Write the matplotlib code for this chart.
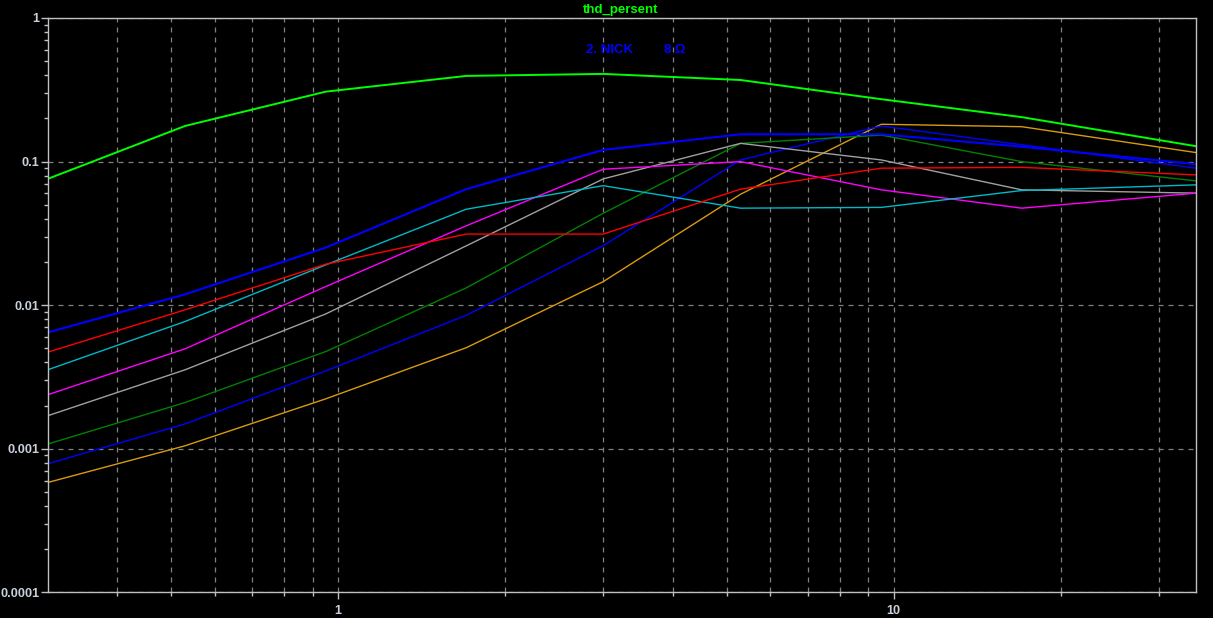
import matplotlib
matplotlib.use("Agg")
import matplotlib.pyplot as plt
from matplotlib.ticker import FixedLocator, NullFormatter, FixedFormatter

# Data (x = level, y = thd percent)
x_vals = [0.3, 0.53, 0.95, 1.7, 3.0, 5.3, 9.5, 17, 35]

s_bright_green = [0.0758, 0.177, 0.307, 0.395, 0.408, 0.37, 0.272, 0.204, 0.128]
s_blue_top     = [0.00646, 0.0119, 0.0252, 0.0643, 0.1206, 0.155, 0.155, 0.127, 0.096]
s_red          = [0.00471, 0.00929, 0.0193, 0.0313, 0.0313, 0.0643, 0.09, 0.0912, 0.0808]
s_cyan         = [0.00355, 0.0077, 0.0191, 0.0466, 0.068, 0.0474, 0.048, 0.0629, 0.0689]
s_magenta      = [0.00238, 0.00497, 0.0135, 0.0357, 0.0885, 0.1, 0.0636, 0.0474, 0.0603]
s_gray         = [0.0017, 0.00355, 0.0087, 0.0259, 0.0758, 0.134, 0.1027, 0.0636, 0.0603]
s_dark_green   = [0.00108, 0.0021, 0.00476, 0.0132, 0.0437, 0.134, 0.153, 0.1, 0.0734]
s_blue_low     = [0.000787, 0.00149, 0.00349, 0.0085, 0.026, 0.1027, 0.177, 0.131, 0.09]
s_orange       = [0.000583, 0.00105, 0.00223, 0.00506, 0.0146, 0.0593, 0.182, 0.175, 0.1156]

series = [
    (s_orange, "#d89a10", 1.0),
    (s_blue_low, "#0000ff", 1.0),
    (s_dark_green, "#008000", 1.0),
    (s_gray, "#a0a0a0", 1.0),
    (s_magenta, "#ff00ff", 1.0),
    (s_cyan, "#00b8c8", 1.0),
    (s_red, "#ff0000", 1.0),
    (s_blue_top, "#0000ff", 1.5),
    (s_bright_green, "#00ff00", 1.4),
]

y_major = [0.0001, 0.001, 0.01, 0.1, 1]
y_labels = ["0.0001", "0.001", "0.01", "0.1", "1"]
x_major = [1, 10]
x_labels = ["1", "10"]
x_minor = [0.4, 0.5, 0.6, 0.7, 0.8, 0.9, 2, 3, 4, 5, 6, 7, 8, 9, 20, 30]

fig = plt.figure(figsize=(12.13, 6.18), dpi=100, facecolor="black")
ax = fig.add_axes([0.0393, 0.0413, 0.9467, 0.9296], facecolor="black")

for ys, col, lw in series:
    ax.plot(x_vals, ys, color=col, lw=lw)

ax.set_xscale("log")
ax.set_yscale("log")
ax.set_xlim(0.3, 35)
ax.set_ylim(0.0001, 1)

txtcol = "#c8d0dc"
ax.yaxis.set_major_locator(FixedLocator(y_major))
ax.yaxis.set_major_formatter(FixedFormatter(y_labels))
ax.yaxis.set_minor_formatter(NullFormatter())
ax.xaxis.set_major_locator(FixedLocator(x_major))
ax.xaxis.set_major_formatter(FixedFormatter(x_labels))
ax.xaxis.set_minor_locator(FixedLocator(x_minor))
ax.xaxis.set_minor_formatter(NullFormatter())

ax.tick_params(axis="both", which="both", colors="#c0c0c0", direction="out")
ax.tick_params(axis="y", which="major", length=5, width=1, labelcolor=txtcol, pad=1)
ax.tick_params(axis="x", which="major", length=5, width=1, labelcolor=txtcol, pad=4)
ax.tick_params(axis="both", which="minor", length=3, width=1)

for lab in ax.get_xticklabels() + ax.get_yticklabels():
    lab.set_fontfamily("Liberation Sans")
    lab.set_fontweight("bold")
    lab.set_fontsize(9.2)
    lab.set_color(txtcol)

ax.grid(True, which="major", axis="both", color="#808080", ls=(0, (4, 4)), lw=0.9)
ax.grid(True, which="minor", axis="x", color="#808080", ls=(0, (4, 4)), lw=0.9)

for sp in ax.spines.values():
    sp.set_color("#c0c0c0")
    sp.set_linewidth(1.0)

fig.text(0.512, 0.984, "thd_persent", color="#00ff00", fontsize=9.5,
         fontweight="bold", family="Liberation Sans", ha="center", va="center")
fig.text(0.4835, 0.9195, "2. NICK", color="#0000ff", fontsize=9.5,
         fontweight="bold", family="Liberation Sans", ha="left", va="center")
fig.text(0.547, 0.9195, "8 Ω", color="#0000ff", fontsize=9.5,
         fontweight="bold", family="Liberation Sans", ha="left", va="center")

fig.savefig("out.png", dpi=100, facecolor="black")
